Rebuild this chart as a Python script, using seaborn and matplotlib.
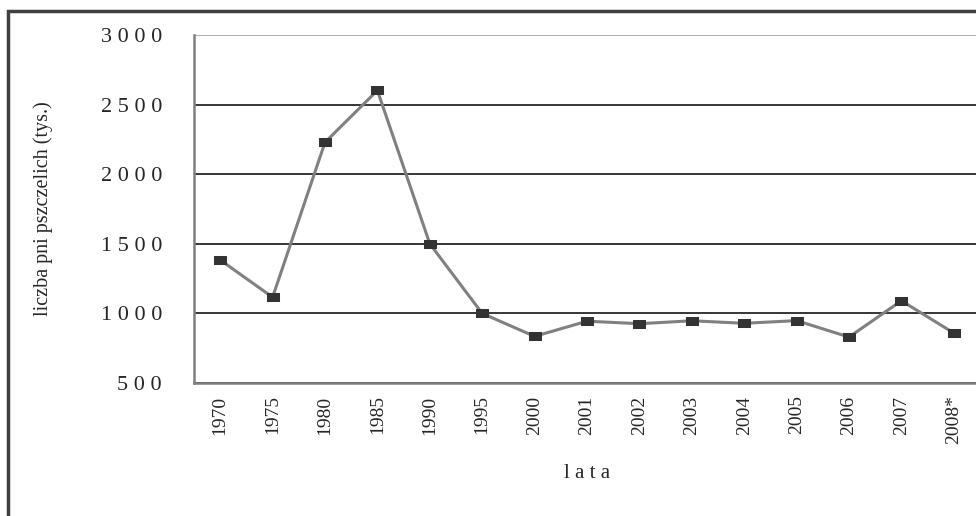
import pandas as pd
import numpy as np
import matplotlib
matplotlib.use("Agg")
import matplotlib.pyplot as plt
import seaborn as sns
from matplotlib.patches import Rectangle
from matplotlib.ticker import FixedLocator, FuncFormatter

## dane - liczba pni pszczelich (tys.)
years = ["1970", "1975", "1980", "1985", "1990", "1995", "2000", "2001",
         "2002", "2003", "2004", "2005", "2006", "2007", "2008*"]
hives = [1384, 1116, 2229, 2602, 1500, 1000, 835, 944,
         926, 947, 929, 948, 830, 1091, 859]
yticks = [500, 1000, 1500, 2000, 2500, 3000]

df = pd.DataFrame({"lata": years, "pnie": hives})
df["pos"] = np.arange(len(years))

sns.set_style("white")
plt.rcParams["font.family"] = ["Liberation Serif", "DejaVu Serif"]

fig = plt.figure(figsize=(9.76, 5.16), dpi=100)
ax = fig.add_axes([194 / 976, 133 / 516, 786 / 976, 348 / 516])

# prostokatny znacznik (szerszy niz wyzszy)
rect_marker = [(-1, -0.62), (1, -0.62), (1, 0.62), (-1, 0.62), (-1, -0.62)]

sns.lineplot(data=df, x="pos", y="pnie", ax=ax, color="#808080", linewidth=2.2,
             marker=rect_marker, markersize=9, markerfacecolor="#333333",
             markeredgecolor="#333333", sort=False)

ax.set_xlim(-0.5, len(years) - 0.5)
ax.set_ylim(500, 3000)

ax.yaxis.set_major_locator(FixedLocator(yticks))
ax.yaxis.set_major_formatter(FuncFormatter(lambda v, p: " ".join(str(int(v)))))
ax.grid(axis="y", color="black", linewidth=1.1)
ax.yaxis.get_gridlines()[-1].set_color("#999999")
ax.set_axisbelow(True)

# kategorie - etykiety na srodku, kreski na granicach
ax.set_xticks(df["pos"])
ax.set_xticklabels(years, rotation=90, fontsize=14)
ax.set_xticks(np.arange(-0.5, len(years), 1), minor=True)
ax.tick_params(axis="x", which="major", length=0, pad=9)
ax.tick_params(axis="x", which="minor", length=5, width=1.2, color="#333333")
ax.tick_params(axis="y", length=7, width=1.2, color="#808080", labelsize=16, pad=16)

for s in ["top", "right"]:
    ax.spines[s].set_visible(False)
for s in ["left", "bottom"]:
    ax.spines[s].set_color("#808080")
    ax.spines[s].set_linewidth(1.8)

ax.set_xlabel("l a t a", fontsize=15, labelpad=14)
ax.set_ylabel("liczba pni pszczelich (tys.)", fontsize=14.5, labelpad=34)

# ramka wykresu
fig.patches.append(Rectangle((8 / 976, -0.1), 1.2, 1 - 11 / 516 + 0.1,
                             transform=fig.transFigure, fill=False,
                             edgecolor="#404040", linewidth=2.5))

fig.savefig("out.png", dpi=100)
